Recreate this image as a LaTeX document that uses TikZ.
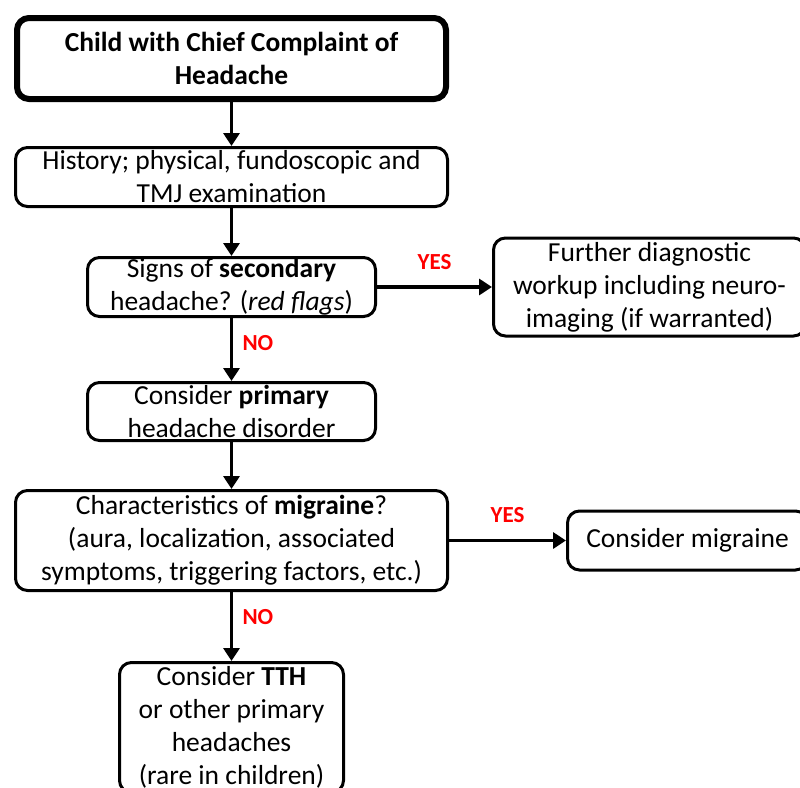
\documentclass[tikz,border=0pt]{standalone}
\usepackage{fontspec}
\setmainfont{Carlito}
\usetikzlibrary{arrows.meta,positioning}
\definecolor{flagred}{HTML}{FF0000}

\begin{document}
\begin{tikzpicture}[
  x=1pt, y=1pt,
  font=\fontsize{27.5}{33}\selectfont,
  box/.style={draw=black, line width=3pt, rounded corners=12pt,
    align=center, inner sep=0pt},
  startbox/.style={box, line width=6pt,
    font=\fontsize{27.5}{33}\selectfont\bfseries},
  flow/.style={-{Triangle[length=13pt,width=16pt]}, line width=3.5pt},
  answer/.style={font=\fontsize{23}{27}\selectfont\bfseries, text=flagred},
]
  \useasboundingbox (0,0) rectangle (800,-787);
  \node[startbox, minimum width=429pt, minimum height=81pt] (child)
    at (231.5,-58.5) {Child with Chief Complaint of\\Headache};
  \node[box, minimum width=432pt, minimum height=59pt, below=44pt of child]
    (history) {History; physical, fundoscopic and\\TMJ examination};
  \node[box, minimum width=288pt, minimum height=59pt, below=48pt of history]
    (secondary) {Signs of \textbf{secondary}\\headache? (\textit{red flags})};
  \node[box, minimum width=312pt, minimum height=98pt, right=115pt of secondary]
    (workup) {Further diagnostic\\workup including neuro-\\imaging (if warranted)};
  \node[box, minimum width=288pt, minimum height=58pt, below=63pt of secondary]
    (primary) {Consider \textbf{primary}\\headache disorder};
  \node[box, minimum width=432pt, minimum height=100pt, below=47pt of primary]
    (features) {Characteristics of \textbf{migraine}?\\(aura, localization, associated\\
    symptoms, triggering factors, etc.)};
  \node[box, minimum width=240pt, minimum height=59pt, right=117pt of features]
    (migraine) {Consider migraine};
  \node[box, minimum width=224pt, minimum height=130pt, below=69pt of features]
    (tth) {Consider \textbf{TTH}\\or other primary\\headaches\\(rare in children)};

  \draw[flow] (child.south) -- (history.north);
  \draw[flow] (history.south) -- (secondary.north);
  \draw[flow] (secondary.east) -- node[answer, above=12pt] {YES} (workup.west);
  \draw[flow] (secondary.south) -- node[answer, right=6pt, pos=0.4] {NO} (primary.north);
  \draw[flow] (primary.south) -- (features.north);
  \draw[flow] (features.east) -- node[answer, above=13pt] {YES} (migraine.west);
  \draw[flow] (features.south) -- node[answer, right=6pt, pos=0.36] {NO} (tth.north);
\end{tikzpicture}
\end{document}
